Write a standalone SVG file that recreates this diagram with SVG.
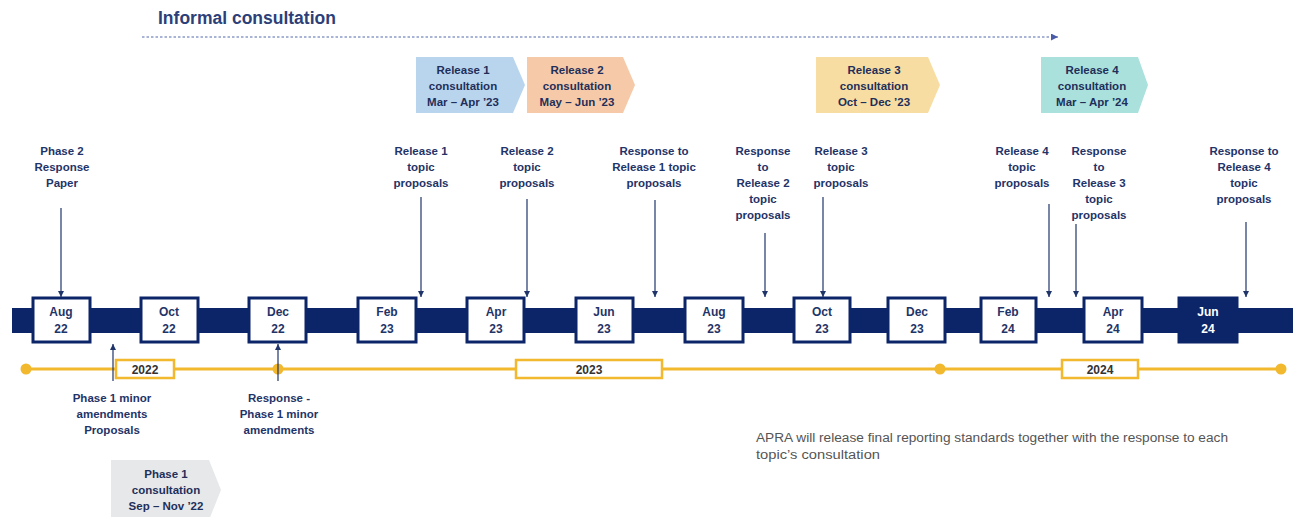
<svg xmlns="http://www.w3.org/2000/svg" width="1300" height="517" viewBox="0 0 1300 517">
  <style>
    text { font-family: "Liberation Sans", Arial, sans-serif; }
    .lbl { font-size: 11.5px; font-weight: bold; fill: #1f3468; text-anchor: middle; }
    .chev { font-size: 11.5px; font-weight: bold; fill: #1f2f5a; text-anchor: middle; }
    .box { fill: #ffffff; stroke: #0c2468; stroke-width: 3; }
    .boxd { fill: #0c2468; stroke: #0c2468; stroke-width: 3; }
    .boxt { font-size: 12px; font-weight: bold; fill: #1f3468; text-anchor: middle; }
    .boxtw { font-size: 12px; font-weight: bold; fill: #ffffff; text-anchor: middle; }
    .yr { fill: #ffffff; stroke: #f2b82e; stroke-width: 2.5; }
    .yrt { font-size: 12px; font-weight: bold; fill: #333333; text-anchor: middle; }
    .conn { stroke: #1f3468; stroke-width: 1.2; fill: none; marker-end: url(#tip); }
    .note { font-size: 12.5px; fill: #555555; }
  </style>
  <defs>
    <marker id="tip" viewBox="0 0 10 10" refX="10" refY="5" markerWidth="6" markerHeight="6" markerUnits="userSpaceOnUse" orient="auto">
      <path d="M0,0 L10,5 L0,10 z" fill="#1f3468"/>
    </marker>
    <marker id="tipblue" viewBox="0 0 10 10" refX="10" refY="5" markerWidth="7" markerHeight="7" markerUnits="userSpaceOnUse" orient="auto">
      <path d="M0,0 L10,5 L0,10 z" fill="#4a5ba8"/>
    </marker>
  </defs>

  <!-- informal consultation banner -->
  <g id="informal">
    <text x="158" y="24" style="font-size:17.5px;font-weight:bold;fill:#2d3f78">Informal consultation</text>
    <line x1="142" y1="37" x2="1058" y2="37" stroke="#8c9cc8" stroke-width="1.3" stroke-dasharray="2.5 2" marker-end="url(#tipblue)"/>
  </g>

  <!-- consultation chevrons -->
  <g id="release1-consultation">
    <polygon points="416,57 513,57 525,85 513,113 416,113" fill="#b9d5ee"/>
    <text class="chev" x="463" y="74">Release 1</text>
    <text class="chev" x="463" y="90">consultation</text>
    <text class="chev" x="463" y="106">Mar – Apr ’23</text>
  </g>
  <g id="release2-consultation">
    <polygon points="527,57 623,57 635,85 623,113 527,113" fill="#f6caa8"/>
    <text class="chev" x="577" y="74">Release 2</text>
    <text class="chev" x="577" y="90">consultation</text>
    <text class="chev" x="577" y="106">May – Jun ’23</text>
  </g>
  <g id="release3-consultation">
    <polygon points="816,57 928,57 940,85 928,113 816,113" fill="#f8dda2"/>
    <text class="chev" x="874" y="74">Release 3</text>
    <text class="chev" x="874" y="90">consultation</text>
    <text class="chev" x="874" y="106">Oct – Dec ’23</text>
  </g>
  <g id="release4-consultation">
    <polygon points="1041,57 1138,57 1148,85 1138,113 1041,113" fill="#aae1dc"/>
    <text class="chev" x="1092" y="74">Release 4</text>
    <text class="chev" x="1092" y="90">consultation</text>
    <text class="chev" x="1092" y="106">Mar – Apr ’24</text>
  </g>
  <g id="phase1-consultation">
    <polygon points="111,460 209,460 221,490 209,520 111,520" fill="#e7e8e9"/>
    <text class="chev" x="166" y="478">Phase 1</text>
    <text class="chev" x="166" y="494">consultation</text>
    <text class="chev" x="166" y="510">Sep – Nov ’22</text>
  </g>

  <!-- milestone labels above the timeline -->
  <g id="phase2-response">
    <text class="lbl" x="62" y="155">Phase 2</text>
    <text class="lbl" x="62" y="171">Response</text>
    <text class="lbl" x="62" y="187">Paper</text>
  </g>
  <g id="release1-proposals">
    <text class="lbl" x="421" y="155">Release 1</text>
    <text class="lbl" x="421" y="171">topic</text>
    <text class="lbl" x="421" y="187">proposals</text>
  </g>
  <g id="release2-proposals">
    <text class="lbl" x="527" y="155">Release 2</text>
    <text class="lbl" x="527" y="171">topic</text>
    <text class="lbl" x="527" y="187">proposals</text>
  </g>
  <g id="response-release1">
    <text class="lbl" x="654" y="155">Response to</text>
    <text class="lbl" x="654" y="171">Release 1 topic</text>
    <text class="lbl" x="654" y="187">proposals</text>
  </g>
  <g id="response-release2">
    <text class="lbl" x="763" y="155">Response</text>
    <text class="lbl" x="763" y="171">to</text>
    <text class="lbl" x="763" y="187">Release 2</text>
    <text class="lbl" x="763" y="203">topic</text>
    <text class="lbl" x="763" y="219">proposals</text>
  </g>
  <g id="release3-proposals">
    <text class="lbl" x="841" y="155">Release 3</text>
    <text class="lbl" x="841" y="171">topic</text>
    <text class="lbl" x="841" y="187">proposals</text>
  </g>
  <g id="release4-proposals">
    <text class="lbl" x="1022" y="155">Release 4</text>
    <text class="lbl" x="1022" y="171">topic</text>
    <text class="lbl" x="1022" y="187">proposals</text>
  </g>
  <g id="response-release3">
    <text class="lbl" x="1099" y="155">Response</text>
    <text class="lbl" x="1099" y="171">to</text>
    <text class="lbl" x="1099" y="187">Release 3</text>
    <text class="lbl" x="1099" y="203">topic</text>
    <text class="lbl" x="1099" y="219">proposals</text>
  </g>
  <g id="response-release4">
    <text class="lbl" x="1244" y="155">Response to</text>
    <text class="lbl" x="1244" y="171">Release 4</text>
    <text class="lbl" x="1244" y="187">topic</text>
    <text class="lbl" x="1244" y="203">proposals</text>
  </g>

  <!-- milestone labels below the timeline -->
  <g id="phase1-amendments">
    <text class="lbl" x="112" y="402">Phase 1 minor</text>
    <text class="lbl" x="112" y="418">amendments</text>
    <text class="lbl" x="112" y="434">Proposals</text>
  </g>
  <g id="response-phase1">
    <text class="lbl" x="279" y="402">Response -</text>
    <text class="lbl" x="279" y="418">Phase 1 minor</text>
    <text class="lbl" x="279" y="434">amendments</text>
  </g>

  <!-- main timeline bar and month boxes -->
  <g id="timeline">
    <rect x="12" y="308" width="1281" height="25" fill="#0c2468"/>
  </g>
  <g id="aug22"><rect class="box" x="33" y="298" width="57" height="44"/><text class="boxt" x="61" y="316">Aug</text><text class="boxt" x="61" y="333">22</text></g>
  <g id="oct22"><rect class="box" x="141" y="298" width="57" height="44"/><text class="boxt" x="169" y="316">Oct</text><text class="boxt" x="169" y="333">22</text></g>
  <g id="dec22"><rect class="box" x="249" y="298" width="57" height="44"/><text class="boxt" x="278" y="316">Dec</text><text class="boxt" x="278" y="333">22</text></g>
  <g id="feb23"><rect class="box" x="358" y="298" width="58" height="44"/><text class="boxt" x="387" y="316">Feb</text><text class="boxt" x="387" y="333">23</text></g>
  <g id="apr23"><rect class="box" x="467" y="298" width="57" height="44"/><text class="boxt" x="496" y="316">Apr</text><text class="boxt" x="496" y="333">23</text></g>
  <g id="jun23"><rect class="box" x="576" y="298" width="57" height="44"/><text class="boxt" x="604" y="316">Jun</text><text class="boxt" x="604" y="333">23</text></g>
  <g id="aug23"><rect class="box" x="685" y="298" width="58" height="44"/><text class="boxt" x="714" y="316">Aug</text><text class="boxt" x="714" y="333">23</text></g>
  <g id="oct23"><rect class="box" x="794" y="298" width="56" height="44"/><text class="boxt" x="822" y="316">Oct</text><text class="boxt" x="822" y="333">23</text></g>
  <g id="dec23"><rect class="box" x="888" y="298" width="57" height="44"/><text class="boxt" x="917" y="316">Dec</text><text class="boxt" x="917" y="333">23</text></g>
  <g id="feb24"><rect class="box" x="981" y="298" width="55" height="44"/><text class="boxt" x="1008" y="316">Feb</text><text class="boxt" x="1008" y="333">24</text></g>
  <g id="apr24"><rect class="box" x="1084" y="298" width="58" height="44"/><text class="boxt" x="1113" y="316">Apr</text><text class="boxt" x="1113" y="333">24</text></g>
  <g id="jun24"><rect class="boxd" x="1179" y="298" width="58" height="44"/><text class="boxtw" x="1208" y="316">Jun</text><text class="boxtw" x="1208" y="333">24</text></g>

  <!-- year track -->
  <g id="year-track">
    <line x1="26" y1="369" x2="1281" y2="369" stroke="#f2b82e" stroke-width="3"/>
    <circle cx="26" cy="369" r="5.5" fill="#f2b82e"/>
    <circle cx="278" cy="369" r="5.5" fill="#f2b82e"/>
    <circle cx="940" cy="369" r="5.5" fill="#f2b82e"/>
    <circle cx="1281" cy="369" r="5.5" fill="#f2b82e"/>
  </g>
  <g id="year-2022"><rect class="yr" x="116" y="360" width="58" height="18"/><text class="yrt" x="145" y="373.5">2022</text></g>
  <g id="year-2023"><rect class="yr" x="516" y="360" width="146" height="18"/><text class="yrt" x="589" y="373.5">2023</text></g>
  <g id="year-2024"><rect class="yr" x="1062" y="360" width="76" height="18"/><text class="yrt" x="1100" y="373.5">2024</text></g>

  <!-- connectors -->
  <g id="connectors">
    <line class="conn" x1="61" y1="208" x2="61" y2="297"/>
    <line class="conn" x1="421" y1="197" x2="421" y2="297"/>
    <line class="conn" x1="527" y1="199" x2="527" y2="297"/>
    <line class="conn" x1="655" y1="200" x2="655" y2="297"/>
    <line class="conn" x1="765" y1="233" x2="765" y2="297"/>
    <line class="conn" x1="823" y1="197" x2="823" y2="297"/>
    <line class="conn" x1="1049" y1="204" x2="1049" y2="297"/>
    <line class="conn" x1="1076" y1="224" x2="1076" y2="297"/>
    <line class="conn" x1="1246" y1="222" x2="1246" y2="297"/>
    <line class="conn" x1="113" y1="381" x2="113" y2="344"/>
    <line class="conn" x1="278" y1="381" x2="278" y2="344"/>
  </g>

  <!-- footnote -->
  <g id="note">
    <text class="note" x="756" y="442" textLength="472" lengthAdjust="spacingAndGlyphs">APRA will release final reporting standards together with the response to each</text>
    <text class="note" x="756" y="459" textLength="124" lengthAdjust="spacingAndGlyphs">topic’s consultation</text>
  </g>
</svg>
